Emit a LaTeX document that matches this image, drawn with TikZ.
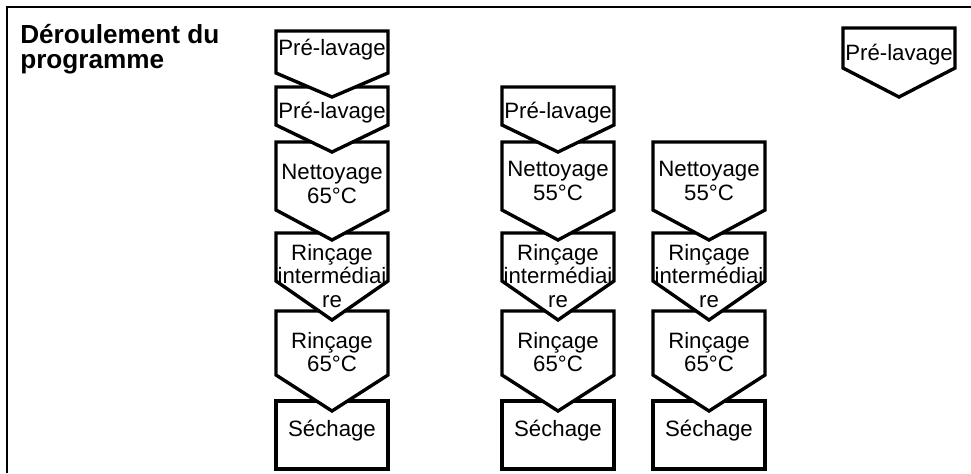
\documentclass[tikz,border=0pt]{standalone}
\usepackage{fontspec}
\setmainfont{Liberation Sans}

\tikzset{
  chev/.style={draw, fill=white, line width=2.4pt},
  lbl/.style={align=center, inner sep=0pt, font=\fontsize{15.8}{16.5}\selectfont},
  ttl/.style={align=left, inner sep=0pt, anchor=north west, font=\fontsize{18.6}{18}\selectfont\bfseries},
}

% centre x, top, end of the sides, tip
\newcommand{\chevshape}[4]{%
  \filldraw[chev] ({#1-56},#2) -- ({#1+56},#2) -- ({#1+56},#3) -- (#1,#4) -- ({#1-56},#3) -- cycle;}

\begin{document}
\begin{tikzpicture}[x=0.025cm, y=-0.025cm]
\useasboundingbox (0,0) rectangle (971,473);
\draw[line width=1.3pt] (7,473) -- (7,7) -- (971,7);

\node[ttl] (title) at (20,24) {Déroulement du\\programme};

% shapes, lowest row first
\foreach \cx in {332,558,709} {
  \filldraw[chev] ({\cx-56},401) rectangle ({\cx+56},469);
  \chevshape{\cx}{311}{375}{411}
  \chevshape{\cx}{233}{281}{320}
  \chevshape{\cx}{142}{210}{240}
}
\foreach \cx in {332,558} {
  \chevshape{\cx}{87}{125}{152}
}
\chevshape{332}{31}{73}{97}
\chevshape{899}{28}{68}{97}

\node[lbl] (a1) at (332,50) {Pré-lavage};
\node[lbl] (a2) at (332,113) {Pré-lavage};
\node[lbl] (a3) at (332,184) {Nettoyage\\65°C};
\node[lbl] (a4) at (332,276) {Rinçage\\intermédiai\\re};
\node[lbl] (a5) at (332,352) {Rinçage\\65°C};
\node[lbl] (a6) at (332,431) {Séchage};

\node[lbl] (b2) at (558,113) {Pré-lavage};
\node[lbl] (b3) at (558,181) {Nettoyage\\55°C};
\node[lbl] (b4) at (558,276) {Rinçage\\intermédiai\\re};
\node[lbl] (b5) at (558,352) {Rinçage\\65°C};
\node[lbl] (b6) at (558,431) {Séchage};

\node[lbl] (c3) at (709,181) {Nettoyage\\55°C};
\node[lbl] (c4) at (709,276) {Rinçage\\intermédiai\\re};
\node[lbl] (c5) at (709,352) {Rinçage\\65°C};
\node[lbl] (c6) at (709,431) {Séchage};

\node[lbl] (d1) at (899,55) {Pré-lavage};
\end{tikzpicture}
\end{document}
